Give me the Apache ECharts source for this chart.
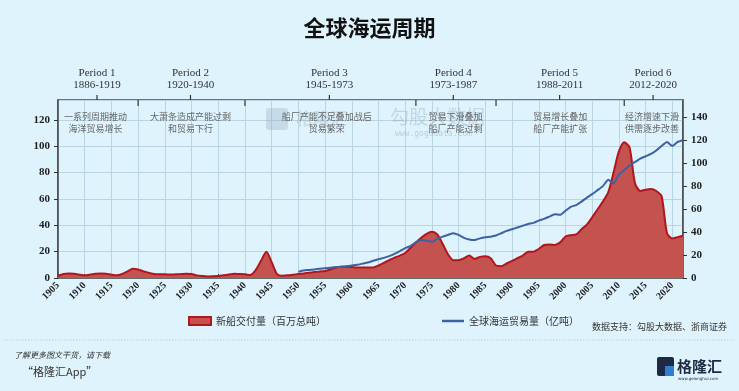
<!DOCTYPE html>
<html><head><meta charset="utf-8">
<script src="https://cdn.jsdelivr.net/npm/echarts@6/dist/echarts.min.js"></script>
<style>html,body{margin:0;padding:0;background:#def3fc;}#c{width:739px;height:391px;}</style>
</head><body><div id="c"></div>
<script>
// ---- data ----
const titleText = '全球海运周期';
const deliveryName = '新船交付量（百万总吨）';
const tradeName = '全球海运贸易量（亿吨）';
const deliveryStart = 1905;
const deliveryValues = [
  1.5, 3, 3.5, 3.2, 2.5, 2, 2.5, 3.2, 3.5, 3.3,
  2.5, 2, 3, 5, 7, 6.5, 5, 4, 3, 2.8,
  2.8, 2.6, 2.8, 3, 3.3, 3, 2, 1.5, 1.2, 1.3,
  1.5, 2, 2.6, 3.2, 3, 2.8, 2.2, 6, 13, 20,
  12, 3, 1.8, 2, 2.5, 3, 3.5, 4, 4.5, 5,
  5.3, 6.5, 8, 8.5, 8.5, 8.3, 8, 8, 8, 8,
  9.5, 11.5, 13.5, 15.5, 17, 19, 23, 27, 30.5, 33.5,
  35, 33, 26, 18, 13.5, 13.5, 15, 17, 14.5, 16,
  16.5, 15, 9.5, 9, 11, 13, 15, 17, 20, 20,
  22, 25, 25.5, 25, 27, 31.5, 32.5, 33, 37, 40.5,
  46, 52, 58, 65, 80, 96, 103, 99, 72, 66,
  67, 67.5, 66, 62, 34, 30, 31, 32
];
const tradeStart = 1950;
const tradeValues = [
  5.5, 6.5, 7, 7.5, 8, 8.5, 9, 9.5, 9.8, 10.2,
  10.8, 11.5, 12.5, 13.5, 15, 16.3, 17.5, 19, 21, 23.5,
  26, 28, 31, 33, 32.5, 31.5, 34, 36, 37.5, 39,
  37.5, 35, 33.5, 33, 34.5, 35.5, 36, 37, 39, 41,
  42.5, 44, 45.5, 47, 48, 50, 51.5, 53.5, 55.5, 55,
  58.5, 62, 63.5, 66.5, 70, 73, 76.5, 80, 85.5, 82.5,
  90, 94, 98, 101, 104, 106, 108, 111, 115, 118.5,
  115, 118.5, 120
];
const periodNames = ['Period 1', 'Period 2', 'Period 3', 'Period 4', 'Period 5', 'Period 6'];
const periodRanges = ['1886-1919', '1920-1940', '1945-1973', '1973-1987', '1988-2011', '2012-2020'];
const periodMid = [1912.3, 1929.8, 1955.8, 1979, 1998.9, 2016.4];
const noteMid = [1912, 1929.8, 1955.3, 1979.4, 1999, 2016.2];
const periodBounds = [1920, 1940, 1972, 1987, 2011];
const periodNotes = [
  ['一系列周期推动', '海洋贸易增长'],
  ['大萧条造成产能过剩', '和贸易下行'],
  ['船厂产能不足叠加战后', '贸易繁荣'],
  ['贸易下滑叠加', '船厂产能过剩'],
  ['贸易增长叠加', '船厂产能扩张'],
  ['经济增速下滑', '供需逐步改善']
];
const sourceText = '数据支持：勾股大数据、浙商证券';

// ---- build ----
const deliveryData = deliveryValues.map((v, i) => [deliveryStart + i, v]);
const tradeData = tradeValues.map((v, i) => [tradeStart + i, v]);

const serif = '"Liberation Serif","DejaVu Serif",serif';
const cjk = '"Noto Sans CJK SC",sans-serif';
const chart = echarts.init(document.getElementById('c'), null, {renderer: 'canvas'});

const option = {
  backgroundColor: '#def3fc',
  animation: false,
  title: {
    text: titleText, left: 'center', top: 12,
    textStyle: {fontFamily: cjk, fontSize: 22, fontWeight: 'bold', color: '#111'}
  },
  grid: {left: 58, right: 56, top: 100, bottom: 113, show: true, borderColor: '#4a4a4a', borderWidth: 1.5, backgroundColor: 'transparent'},
  legend: [
    {data: [deliveryName], left: 183, top: 311, itemWidth: 22, itemHeight: 8, icon: 'rect', itemGap: 2,
     textStyle: {fontFamily: cjk, fontSize: 10, color: '#333'}},
    {data: [tradeName], left: 437, top: 311, itemWidth: 22, itemHeight: 2.5, icon: 'rect', itemGap: 2,
     itemStyle: {color: '#3d62a3', borderWidth: 0},
     textStyle: {fontFamily: cjk, fontSize: 10, color: '#333'}}
  ],
  xAxis: {
    type: 'value', min: 1905, max: 2022, interval: 5,
    axisLine: {show: true, lineStyle: {color: '#4a4a4a', width: 1.5}},
    axisTick: {inside: true, length: 4, lineStyle: {color: '#333'}},
    splitLine: {show: true, lineStyle: {color: '#b9d5e2', width: 1}},
    axisLabel: {rotate: 45, showMaxLabel: false, margin: 6, fontFamily: serif, fontWeight: 'bold', fontSize: 10, color: '#222',
      formatter: v => (v % 5 === 0 ? String(v) : '')}
  },
  yAxis: [
    {type: 'value', min: 0, max: 135, interval: 20,
     axisLine: {show: true, lineStyle: {color: '#4a4a4a', width: 1.5}},
     axisTick: {show: true, length: 4, lineStyle: {color: '#333'}},
     splitLine: {show: true, lineStyle: {color: '#b9d5e2', width: 1}},
     axisLabel: {showMaxLabel: false, margin: 8, fontFamily: serif, fontWeight: 'bold', fontSize: 11, color: '#222'}},
    {type: 'value', min: 0, max: 155, interval: 20, position: 'right',
     axisLine: {show: true, lineStyle: {color: '#4a4a4a', width: 1.5}},
     axisTick: {show: true, length: 4, lineStyle: {color: '#333'}},
     splitLine: {show: false},
     axisLabel: {showMaxLabel: false, margin: 8, fontFamily: serif, fontWeight: 'bold', fontSize: 11, color: '#222'}}
  ],
  series: [
    {name: deliveryName, type: 'line', yAxisIndex: 0, data: deliveryData, smooth: 0.25, symbol: 'none',
     lineStyle: {color: '#b3151c', width: 2},
     itemStyle: {color: '#c6524f', borderColor: '#b3151c', borderWidth: 1.5},
     areaStyle: {color: '#c4524f', opacity: 1}, z: 2},
    {name: tradeName, type: 'line', yAxisIndex: 1, data: tradeData, smooth: 0.15, symbol: 'none',
     lineStyle: {color: '#3d62a3', width: 2},
     itemStyle: {color: '#3d62a3'}, z: 3}
  ]
};
chart.setOption(option);

// ---- period annotations positioned through the x axis ----
const toX = y => chart.convertToPixel({xAxisIndex: 0}, y);
const gridTop = 100;
const g = [];
periodNames.forEach((name, i) => {
  const x = toX(periodMid[i]);
  const xn = toX(noteMid[i]);
  g.push({type: 'text', x: x, y: 73, style: {text: name, fontFamily: serif, fontSize: 11, fill: '#333', align: 'center', verticalAlign: 'middle'}});
  g.push({type: 'text', x: x, y: 85, style: {text: periodRanges[i], fontFamily: serif, fontSize: 11, fill: '#333', align: 'center', verticalAlign: 'middle'}});
  g.push({type: 'line', shape: {x1: x, y1: gridTop - 5, x2: x, y2: gridTop}, style: {stroke: '#333', lineWidth: 1.2}});
  g.push({type: 'text', x: xn, y: 117, z: 10, style: {text: periodNotes[i][0], fontFamily: cjk, fontSize: 9, fill: '#666', align: 'center', verticalAlign: 'middle'}});
  g.push({type: 'text', x: xn, y: 129, z: 10, style: {text: periodNotes[i][1], fontFamily: cjk, fontSize: 9, fill: '#666', align: 'center', verticalAlign: 'middle'}});
});
periodBounds.forEach(b => {
  const x = toX(b);
  g.push({type: 'line', shape: {x1: x, y1: gridTop, x2: x, y2: gridTop + 6}, style: {stroke: '#333', lineWidth: 1.2}});
});
// watermark
g.push({type: 'rect', shape: {x: 266, y: 108, width: 22, height: 22, r: 3}, style: {fill: 'rgba(140,165,185,0.3)'}, z: 9});
g.push({type: 'text', x: 296, y: 119, z: 9, style: {text: '格隆汇', fontFamily: cjk, fontSize: 17, fontWeight: 'bold', fill: 'rgba(140,160,180,0.25)', verticalAlign: 'middle'}});
g.push({type: 'text', x: 390, y: 117, z: 9, style: {text: '勾股大数据', fontFamily: cjk, fontSize: 19, fill: 'rgba(130,150,170,0.3)', verticalAlign: 'middle'}});
g.push({type: 'text', x: 395, y: 134, z: 9, style: {text: 'www.gogudata.com', fontFamily: 'DejaVu Sans Mono', fontSize: 8, fill: 'rgba(130,150,170,0.4)', verticalAlign: 'middle'}});
// source & footer
g.push({type: 'text', x: 727, y: 327, style: {text: sourceText, fontFamily: cjk, fontSize: 9, fill: '#333', align: 'right', verticalAlign: 'middle'}});
g.push({type: 'line', shape: {x1: 4, y1: 340, x2: 735, y2: 340}, style: {stroke: '#c3cfd6', lineWidth: 1, lineDash: [1.5, 1.5]}});
g.push({type: 'text', x: 14, y: 355, style: {text: '了解更多图文干货，请下载', fontFamily: cjk, fontSize: 8, fontStyle: 'italic', fill: '#333', verticalAlign: 'middle'}});
g.push({type: 'text', x: 22, y: 372, style: {text: '“格隆汇App”', fontFamily: cjk, fontSize: 11, fill: '#333', verticalAlign: 'middle'}});
g.push({type: 'rect', shape: {x: 657, y: 357, width: 17, height: 19, r: 2}, style: {fill: '#1d2a44'}});
g.push({type: 'rect', shape: {x: 665, y: 366, width: 9, height: 10}, style: {fill: '#2f7fd0'}});
g.push({type: 'text', x: 677, y: 366, style: {text: '格隆汇', fontFamily: cjk, fontSize: 15, fontWeight: 'bold', fill: '#1d2a44', verticalAlign: 'middle'}});
g.push({type: 'text', x: 678, y: 379, style: {text: 'www.gelonghui.com', fontFamily: 'DejaVu Sans', fontSize: 4, fill: '#1d2a44', verticalAlign: 'middle'}});
chart.setOption({graphic: g});
</script>
</body></html>
